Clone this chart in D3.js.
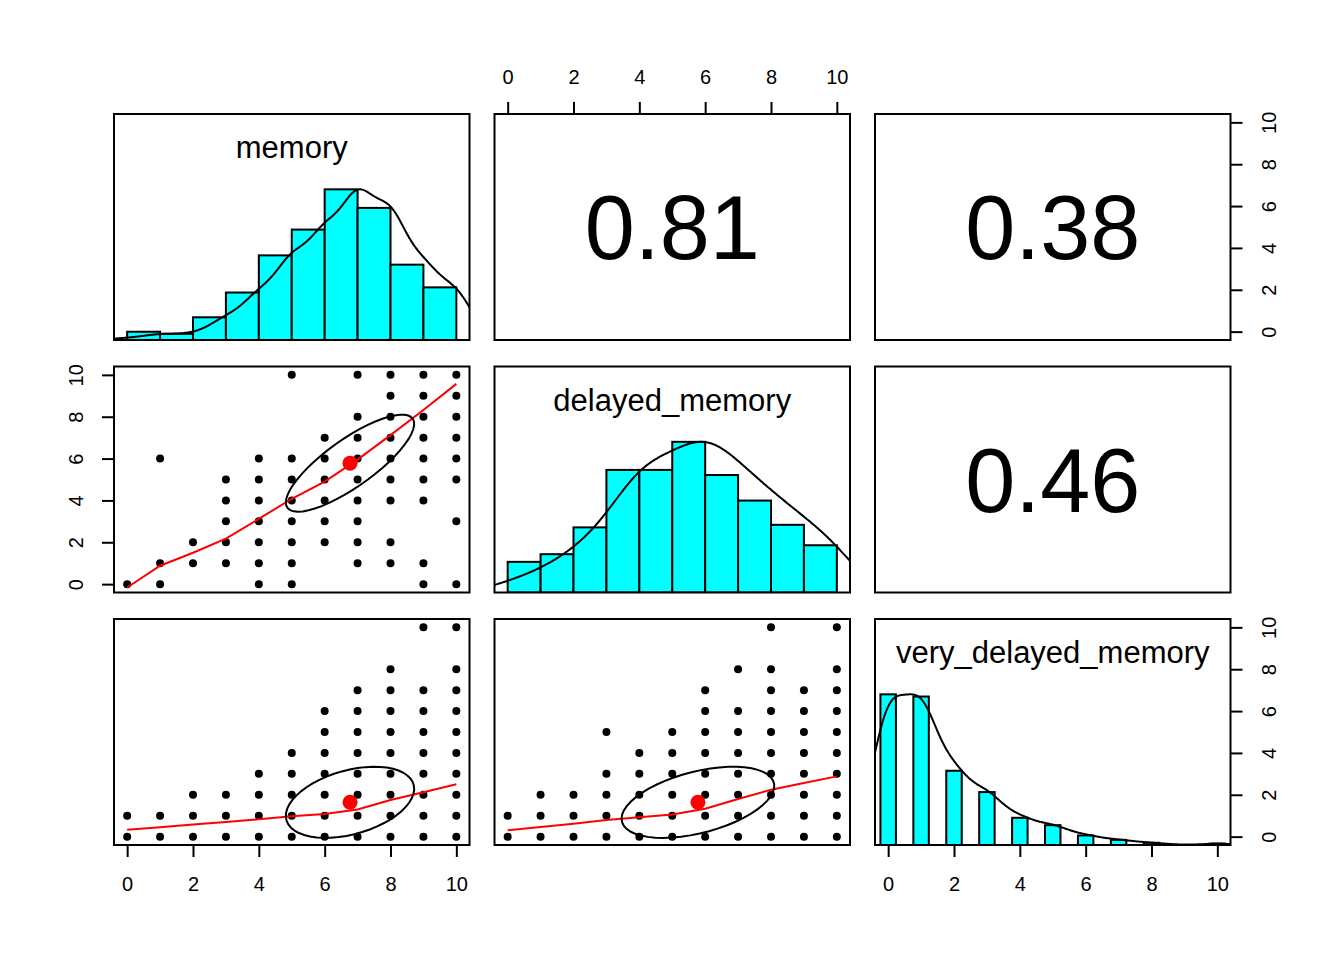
<!DOCTYPE html>
<html>
<head>
<meta charset="utf-8">
<script src="https://cdn.jsdelivr.net/npm/d3@7"></script>
<style>
  body { margin: 0; background: #fff; }
  text { font-family: "Liberation Sans", Arial, Helvetica, sans-serif; }
</style>
</head>
<body>
<div id="chart"></div>
<script>
// variable names shown on the diagonal
var varNames = ["memory", "delayed_memory", "very_delayed_memory"];

// number of people with each score 0..10
var memoryCounts      = [2, 6, 6, 22, 46, 82, 107, 146, 128, 73, 51];
var delayedCounts     = [8, 16, 30, 51, 96, 96, 118, 92, 72, 53, 37];
var veryDelayedCounts = [205, 202, 101, 72, 37, 27, 13, 7, 3, 0, 2];

// correlations printed in the upper panels
var corrLabels = ["0.81", "0.38", "0.46"];
var corrValues = [0.81, 0.38, 0.46];

// means and sds (centre dot / ellipse size)
var means = [6.77, 5.78, 1.64];
var sds   = [1.95, 2.32, 1.70];

var axisTicks = [0, 2, 4, 6, 8, 10];
var scoreValues = [0, 1, 2, 3, 4, 5, 6, 7, 8, 9, 10];

// scatter: for each x score (0..10), the y scores that occur
var memDelayedPts = [[0], [0, 1, 6], [1, 2], [1, 2, 3, 4, 5], [0, 1, 2, 3, 4, 5, 6],
  [0, 1, 2, 3, 4, 5, 6, 10], [2, 3, 4, 5, 6, 7], [1, 2, 3, 4, 5, 6, 7, 8, 10],
  [1, 2, 4, 5, 6, 7, 8, 9, 10], [0, 1, 4, 5, 6, 7, 8, 9, 10], [0, 3, 5, 6, 7, 8, 9, 10]];
var memVeryPts = [[0, 1], [0, 1], [0, 1, 2], [0, 1, 2], [0, 1, 2, 3], [0, 1, 2, 3, 4],
  [0, 1, 2, 3, 4, 5, 6], [0, 1, 2, 3, 4, 5, 6, 7], [0, 1, 2, 3, 4, 5, 6, 7, 8],
  [0, 1, 2, 3, 4, 5, 6, 7, 10], [0, 1, 2, 3, 4, 5, 6, 7, 8, 10]];
var delVeryPts = [[0, 1], [0, 1, 2], [0, 1, 2], [0, 1, 2, 3, 5], [0, 1, 2, 3, 4],
  [0, 1, 2, 3, 4, 5], [0, 1, 2, 3, 4, 5, 6, 7], [0, 1, 2, 3, 4, 5, 6, 8],
  [0, 1, 2, 3, 4, 5, 6, 7, 8, 10], [0, 1, 2, 3, 4, 5, 6, 7], [0, 1, 2, 3, 4, 5, 6, 7, 8, 10]];

// lowess fits at x = 0..10
var memDelayedLoess = [-0.16, 0.88, 1.5, 2.17, 3.12, 4.08, 4.9, 5.95, 7.12, 8.32, 9.57];
var memVeryLoess    = [0.33, 0.45, 0.58, 0.7, 0.83, 0.97, 1.08, 1.3, 1.75, 2.12, 2.5];
var delVeryLoess    = [0.3, 0.46, 0.62, 0.8, 0.93, 1.06, 1.33, 1.8, 2.24, 2.56, 2.88];

var allCounts = [memoryCounts, delayedCounts, veryDelayedCounts];
// lower panels: key "row,col" -> points / loess
var lowerPts   = {"1,0": memDelayedPts, "2,0": memVeryPts, "2,1": delVeryPts};
var lowerLoess = {"1,0": memDelayedLoess, "2,0": memVeryLoess, "2,1": delVeryLoess};
var upperCorr  = {"0,1": 0, "0,2": 1, "1,2": 2};

// layout
var plotLeft = 114, plotTop = 114, pw = 355.5, ph = 226, gx = 25, gy = 26.5;
var fontAxis = 20;

var svg = d3.select("#chart").append("svg")
    .attr("width", 1344)
    .attr("height", 960);

var x = d3.scaleLinear().domain([-0.4, 10.4]).range([0, pw]);
var y = d3.scaleLinear().domain([-0.4, 10.4]).range([ph, 0]);
var yh = d3.scaleLinear().domain([0, 1.5]).range([ph, 0]);

// kernel density like R density(bw="nrd", adjust=1.2), scaled to max 1
function density(counts) {
  var raw = [];
  counts.forEach(function(c, v) { for (var k = 0; k < c; k++) raw.push(v); });
  var n = raw.length, sd = d3.deviation(raw);
  var iqr = d3.quantile(raw, 0.75) - d3.quantile(raw, 0.25);
  var bw = 1.2 * 1.06 * Math.min(sd, iqr / 1.34) * Math.pow(n, -0.2);
  var lo = d3.min(raw) - 3 * bw, hi = d3.max(raw) + 3 * bw;
  var pts = d3.range(512).map(function(k) {
    var g = lo + (hi - lo) * k / 511;
    var s = d3.sum(counts, function(c, v) { var u = (g - v) / bw; return c * Math.exp(-0.5 * u * u); });
    return [g, s];
  });
  var mx = d3.max(pts, function(d) { return d[1]; });
  return pts.map(function(d) { return [d[0], d[1] / mx]; });
}

// ellipse as in psych::draw.ellipse
function ellipse(xm, ym, xs, ys, r) {
  var th = 1 / Math.sqrt(2), a = Math.sqrt(1 + r), b = Math.sqrt(1 - r);
  return d3.range(52).map(function(k) {
    var ang = k * 2 * Math.PI / 51, c = Math.cos(ang), s = Math.sin(ang);
    return [(c * a * th - s * b * th) * xs + xm, (c * a * th + s * b * th) * ys + ym];
  });
}

for (var i = 0; i < 3; i++) {
  for (var j = 0; j < 3; j++) {
    var px = plotLeft + j * (pw + gx), py = plotTop + i * (ph + gy);
    var g = svg.append("g").attr("transform", "translate(" + px + "," + py + ")");
    var clipId = "clip" + i + j;
    g.append("clipPath").attr("id", clipId)
      .append("rect").attr("width", pw).attr("height", ph);
    var inner = g.append("g").attr("clip-path", "url(#" + clipId + ")");
    var key = i + "," + j;

    if (i == j) {
      var counts = allCounts[i];
      var nUnique = counts.filter(function(c) { return c > 0; }).length;
      var bars;
      if (nUnique < 11) {
        // narrow bars at each observed value
        var mxc = d3.max(counts);
        var hw = 0.235;
        bars = scoreValues.filter(function(v) { return counts[v] > 0; })
          .map(function(v) { return {x0: v - hw, x1: v + hw, h: counts[v] / mxc}; });
      } else {
        // hist with breaks 0:10 (first bin includes 0 and 1)
        var binned = d3.range(10).map(function(k) {
          return k == 0 ? counts[0] + counts[1] : counts[k + 1];
        });
        var mxb = d3.max(binned);
        bars = binned.map(function(c, k) { return {x0: k, x1: k + 1, h: c / mxb}; });
      }
      inner.selectAll("rect.bar").data(bars).enter().append("rect")
        .attr("class", "bar")
        .attr("x", function(d) { return x(d.x0); })
        .attr("width", function(d) { return x(d.x1) - x(d.x0); })
        .attr("y", function(d) { return yh(d.h); })
        .attr("height", function(d) { return yh(0) - yh(d.h); })
        .attr("fill", "#00FFFF")
        .attr("stroke", "black")
        .attr("stroke-width", 2);
      inner.append("path")
        .datum(density(counts))
        .attr("d", d3.line().x(function(d) { return x(d[0]); }).y(function(d) { return yh(d[1]); }))
        .attr("fill", "none")
        .attr("stroke", "black")
        .attr("stroke-width", 2);
      g.append("text")
        .attr("x", pw / 2)
        .attr("y", 44)
        .attr("text-anchor", "middle")
        .style("font-size", "31px")
        .text(varNames[i]);
    } else if (i < j) {
      var ci = upperCorr[key];
      g.append("text")
        .attr("x", pw / 2)
        .attr("y", ph / 2 + 0.358 * 90)
        .attr("text-anchor", "middle")
        .style("font-size", "90px")
        .text(corrLabels[ci]);
    } else {
      var cols = lowerPts[key];
      var pts = [];
      cols.forEach(function(ys, xv) { ys.forEach(function(yv) { pts.push([xv, yv]); }); });
      inner.selectAll("circle.pt").data(pts).enter().append("circle")
        .attr("class", "pt")
        .attr("cx", function(d) { return x(d[0]); })
        .attr("cy", function(d) { return y(d[1]); })
        .attr("r", 4)
        .attr("fill", "black");
      var loess = lowerLoess[key];
      inner.append("path")
        .datum(scoreValues.map(function(v) { return [v, loess[v]]; }))
        .attr("d", d3.line().x(function(d) { return x(d[0]); }).y(function(d) { return y(d[1]); }))
        .attr("fill", "none")
        .attr("stroke", "red")
        .attr("stroke-width", 2);
      var r = corrValues[upperCorr[j + "," + i]];
      inner.append("circle")
        .attr("cx", x(means[j]))
        .attr("cy", y(means[i]))
        .attr("r", 7.5)
        .attr("fill", "red");
      inner.append("path")
        .datum(ellipse(means[j], means[i], sds[j], sds[i], r))
        .attr("d", d3.line().x(function(d) { return x(d[0]); }).y(function(d) { return y(d[1]); }))
        .attr("fill", "none")
        .attr("stroke", "black")
        .attr("stroke-width", 2);
    }

    g.append("rect")
      .attr("width", pw)
      .attr("height", ph)
      .attr("fill", "none")
      .attr("stroke", "black")
      .attr("stroke-width", 2);

    // axes, alternating like pairs()
    var ax = null;
    if (i == 0 && j == 1) {
      ax = g.append("g").call(d3.axisTop(x).tickValues(axisTicks).tickSize(12).tickPadding(18));
    }
    if (i == 2 && j % 2 == 0) {
      ax = g.append("g").attr("transform", "translate(0," + ph + ")")
        .call(d3.axisBottom(x).tickValues(axisTicks).tickSize(12).tickPadding(20));
    }
    if (ax) {
      ax.select(".domain").remove();
      ax.selectAll("line").attr("stroke-width", 2);
      ax.selectAll("text").style("font-size", fontAxis + "px").attr("fill", "black");
    }
    var side = 0;
    if (j == 0 && i == 1) side = -1;
    if (j == 2 && i % 2 == 0) side = 1;
    if (side != 0) {
      var ay = g.append("g").attr("transform", "translate(" + (side > 0 ? pw : 0) + ",0)")
        .call((side > 0 ? d3.axisRight(y) : d3.axisLeft(y)).tickValues(axisTicks).tickSize(12));
      ay.select(".domain").remove();
      ay.selectAll("line").attr("stroke-width", 2);
      ay.selectAll("text")
        .attr("x", 0)
        .attr("dy", null)
        .attr("y", side * 38.5 + 0.358 * fontAxis)
        .attr("transform", "rotate(-90)")
        .attr("text-anchor", "middle")
        .attr("fill", "black")
        .style("font-size", fontAxis + "px");
    }
  }
}
</script>
</body>
</html>
